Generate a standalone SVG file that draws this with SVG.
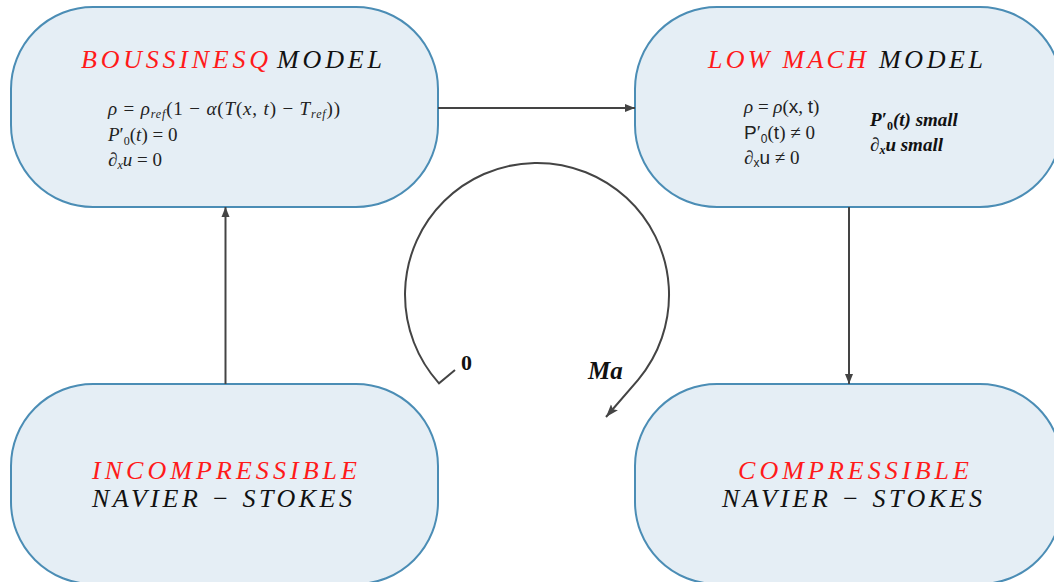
<svg xmlns="http://www.w3.org/2000/svg" width="1054" height="582" viewBox="0 0 1054 582">
<defs>
<marker id="ah" viewBox="0 0 10 10" refX="10" refY="5" markerWidth="10" markerHeight="10" markerUnits="userSpaceOnUse" orient="auto">
<path d="M0,1 L10,5 L0,9 Z" fill="#444"/>
</marker>
<marker id="ah2" viewBox="0 0 10 10" refX="10" refY="5" markerWidth="13" markerHeight="13" markerUnits="userSpaceOnUse" orient="auto">
<path d="M0,1.5 L10,5 L0,8.5 L2,5 Z" fill="#444"/>
</marker>
</defs>
<style>
.box{fill:#e5eef5;stroke:#4b8db5;stroke-width:2}
.t{font-family:"Liberation Serif",serif;font-style:italic;font-size:26px;fill:#111}
.red{fill:#ff1a1a}
.m{font-family:"Liberation Serif",serif;font-size:19px;fill:#222}
.i{font-style:italic}
.s{font-family:"Liberation Sans",sans-serif;font-style:normal}
.sub{font-size:12px}
.b{font-family:"Liberation Serif",serif;font-style:italic;font-weight:bold;font-size:19px;fill:#111}
.con{stroke:#444;stroke-width:2;fill:none}
</style>
<rect width="1054" height="582" fill="#fff"/>
<g id="boussinesq">
<rect class="box" x="11" y="7" width="427" height="200" rx="82" ry="82"/>
<text class="t" y="68"><tspan class="red" x="81" textLength="187" lengthAdjust="spacing">BOUSSINESQ</tspan><tspan x="277" textLength="105" lengthAdjust="spacing">MODEL</tspan></text>
<text class="m" x="108" y="115" textLength="232" lengthAdjust="spacing"><tspan class="i">ρ</tspan> = <tspan class="i">ρ</tspan><tspan class="i sub" dy="3">ref</tspan><tspan dy="-3">(1 − </tspan><tspan class="i">α</tspan>(<tspan class="i">T</tspan>(<tspan class="i">x</tspan>, <tspan class="i">t</tspan>) − <tspan class="i">T</tspan><tspan class="i sub" dy="3">ref</tspan><tspan dy="-3">))</tspan></text>
<text class="m" x="108" y="141"><tspan class="i">P</tspan>′<tspan class="sub" dy="4">0</tspan><tspan dy="-4">(</tspan><tspan class="i">t</tspan>) = 0</text>
<text class="m" x="108" y="166"><tspan class="i">∂</tspan><tspan class="i sub" dy="3">x</tspan><tspan class="i" dy="-3">u</tspan> = 0</text>
</g>
<g id="lowmach">
<rect class="box" x="635" y="7" width="427" height="200" rx="82" ry="82"/>
<text class="t" y="68"><tspan class="red" x="708" textLength="158" lengthAdjust="spacing">LOW MACH</tspan><tspan x="879" textLength="104" lengthAdjust="spacing">MODEL</tspan></text>
<text class="m" x="744" y="113"><tspan class="i">ρ</tspan> = <tspan class="i">ρ</tspan>(<tspan class="s">x</tspan>, <tspan class="s">t</tspan>)</text>
<text class="m" x="744" y="139"><tspan class="s">P</tspan>′<tspan class="sub s" dy="4">0</tspan><tspan dy="-4">(</tspan><tspan class="s">t</tspan>) ≠ 0</text>
<text class="m" x="744" y="164"><tspan class="i">∂</tspan><tspan class="s sub" dy="3">x</tspan><tspan class="s" dy="-3">u</tspan> ≠ 0</text>
<text class="b" x="870" y="126">P′<tspan class="sub" dy="4" style="font-style:normal">0</tspan><tspan dy="-4">(t) small</tspan></text>
<text class="b" x="870" y="151">∂<tspan class="sub" dy="3">x</tspan><tspan dy="-3">u small</tspan></text>
</g>
<g id="incompressible">
<rect class="box" x="11" y="384" width="427" height="200" rx="82" ry="82"/>
<text class="t red" x="92" y="479" textLength="265" lengthAdjust="spacing">INCOMPRESSIBLE</text>
<text class="t" x="92" y="507" textLength="260" lengthAdjust="spacing">NAVIER − STOKES</text>
</g>
<g id="compressible">
<rect class="box" x="635" y="384" width="427" height="200" rx="82" ry="82"/>
<text class="t red" x="738" y="479" textLength="231" lengthAdjust="spacing">COMPRESSIBLE</text>
<text class="t" x="722" y="507" textLength="260" lengthAdjust="spacing">NAVIER − STOKES</text>
</g>
<g id="connectors">
<line class="con" x1="438" y1="108" x2="635" y2="108" marker-end="url(#ah)"/>
<line class="con" x1="225.5" y1="384" x2="225.5" y2="207" marker-end="url(#ah)"/>
<line class="con" x1="849" y1="207" x2="849" y2="384" marker-end="url(#ah)"/>
<path class="con" d="M455,370 L439,383.3 A132,132 0 1 1 638.1,379.8 L606,417" marker-end="url(#ah2)"/>
<text class="b" x="461" y="370" style="font-style:normal;font-size:22px">0</text>
<text class="b" x="588" y="379" style="font-size:25px">Ma</text>
</g>
</svg>
